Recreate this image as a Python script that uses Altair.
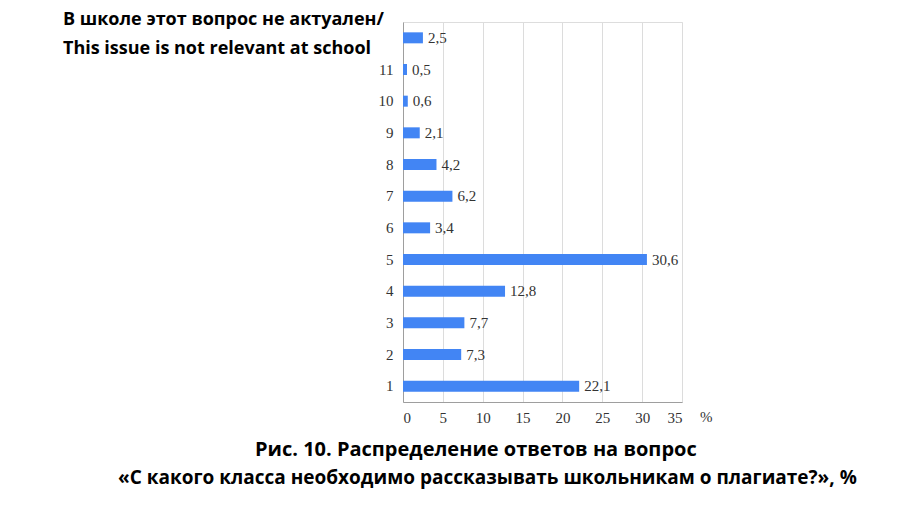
import altair as alt
import pandas as pd

categories = ["В школе этот вопрос не актуален/", "11", "10", "9", "8", "7", "6", "5", "4", "3", "2", "1"]
values = [2.5, 0.5, 0.6, 2.1, 4.2, 6.2, 3.4, 30.6, 12.8, 7.7, 7.3, 22.1]
x_ticks = [0, 5, 10, 15, 20, 25, 30, 35]
top_label = ["В школе этот вопрос не актуален/", "This issue is not relevant at school"]
caption1 = "Рис. 10. Распределение ответов на вопрос"
caption2 = "«С какого класса необходимо рассказывать школьникам о плагиате?», %"

df = pd.DataFrame({"cat": categories, "val": values})

W, H = 279, 380
SERIF = "Liberation Serif"
SANS = "Open Sans"

base = alt.Chart(df).transform_calculate(
    lab="replace(format(datum.val, '.1f'), '.', ',')"
)

x_enc = alt.X(
    "val:Q",
    scale=alt.Scale(domain=[0, 35], nice=False),
    axis=alt.Axis(
        title=None,
        values=x_ticks,
        labelOverlap=False,
        ticks=False,
        domain=True,
        domainColor="#9e9e9e",
        grid=True,
        gridColor="#dcdcdc",
        labelFont=SERIF,
        labelFontSize=15,
        labelColor="#333333",
        labelPadding=8,
    ),
)

y_enc = alt.Y(
    "cat:N",
    sort=categories,
    scale=alt.Scale(paddingInner=0.0, paddingOuter=0.0),
    axis=alt.Axis(
        title=None,
        ticks=False,
        domain=True,
        domainColor="#9e9e9e",
        labelFont=SERIF,
        labelFontSize=15,
        labelColor="#333333",
        labelPadding=10,
        labelExpr=f"datum.value == '{categories[0]}' ? '' : datum.value",
        grid=False,
    ),
)

bars = base.mark_bar(color="#4285f4", size=11).encode(x=x_enc, y=y_enc)

labels = base.mark_text(
    align="left", baseline="middle", dx=5, font=SERIF, fontSize=15, color="#333333"
).encode(x=x_enc, y=y_enc, text="lab:N")

one = pd.DataFrame({"a": [0]})

top_text = alt.Chart(one).mark_text(
    text=top_label, align="left", baseline="middle", font=SANS, fontSize=18,
    fontWeight="bold", color="#000000", lineHeight=29
).encode(x=alt.value(-340), y=alt.value(-2))

cap1 = alt.Chart(one).mark_text(
    text=caption1, align="left", baseline="middle", font=SANS, fontSize=20,
    fontWeight="bold", color="#000000"
).encode(x=alt.value(-148), y=alt.value(428))

cap2 = alt.Chart(one).mark_text(
    text=caption2, align="left", baseline="middle", font=SANS, fontSize=19,
    fontWeight="bold", color="#000000"
).encode(x=alt.value(-285), y=alt.value(456))

pct = alt.Chart(one).mark_text(
    text="%", align="left", baseline="middle", font=SERIF, fontSize=15, color="#333333"
).encode(x=alt.value(297), y=alt.value(395))

chart = alt.layer(bars, labels, top_text, cap1, cap2, pct).properties(
    width=W, height=H,
    autosize=alt.AutoSizeParams(type="none"),
    padding={"left": 403, "top": 22, "right": 239, "bottom": 115},
).configure_view(stroke=None).configure(background="white")

chart.save("out.html", embed_options={"renderer": "svg", "actions": False})
